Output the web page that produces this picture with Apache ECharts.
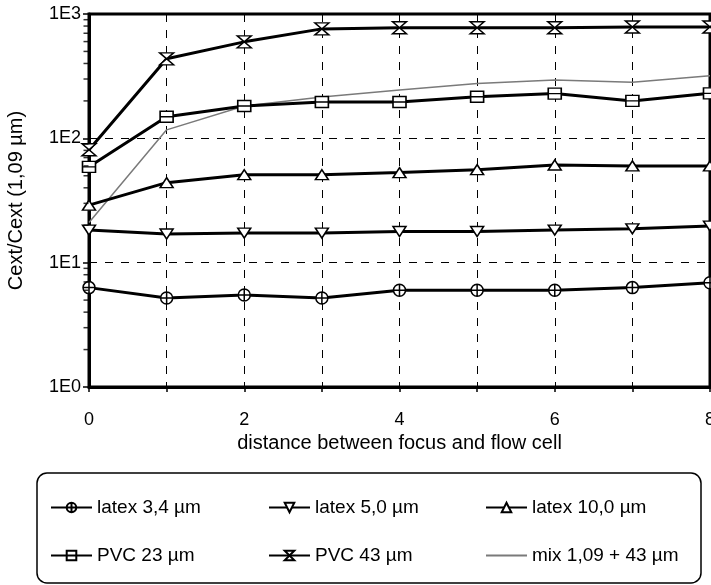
<!DOCTYPE html>
<html><head><meta charset="utf-8">
<script src="https://cdn.jsdelivr.net/npm/echarts@6/dist/echarts.min.js"></script>
<style>html,body{margin:0;padding:0;background:#fff}#c{width:711px;height:585px}</style>
</head><body><div id="c"></div>
<script>
const xValues = [0,1,2,3,4,5,6,7,8];
const latex34 = [6.3,5.2,5.5,5.2,6.0,6.0,6.0,6.3,6.9];
const latex50 = [18.3,17.0,17.3,17.3,17.8,17.8,18.3,18.7,19.7];
const latex100 = [29,44,51,51,53,56,61,60,60];
const pvc23 = [59,149,182,196,196,216,229,200,230];
const pvc43 = [81,436,597,759,776,776,776,787,787];
const mix = [21,117,182,215,245,276,295,283,318];
const seriesNames = ['latex 3,4 µm','latex 5,0 µm','latex 10,0 µm','PVC 23 µm','PVC 43 µm','mix 1,09 + 43 µm'];
const minorTickValues = [2,3,4,5,6,7,8,9,20,30,40,50,60,70,80,90,200,300,400,500,600,700,800,900];

const pair = arr => arr.map((v,i)=>[xValues[i], v]);
const FONT = 'Liberation Sans, Arial, sans-serif';
const sym = {
  circ: 'path://M10,0 A10,10 0 1,1 9.99,0 Z M0,10 L20,10 M10,0 L10,20',
  down: 'path://M0,0 L20,0 L10,17 Z',
  up: 'path://M10,0 L20,17 L0,17 Z',
  sq: 'path://M0,0 L20,0 L20,16 L0,16 Z M0,8 L20,8',
  hour: 'path://M0,0 L20,0 L0,20 L20,20 Z'
};
function lineSeries(name, data, symbol, size) {
  return {
    name, type:'line', data: pair(data), symbol, symbolSize: size,
    showAllSymbol: true,
    lineStyle:{color:'#000', width:3},
    itemStyle:{color:'#fff', borderColor:'#000', borderWidth:1.5},
    z: 3
  };
}
const chart = echarts.init(document.getElementById('c'));
const legendCommon = {
  orient:'vertical', itemWidth:41, itemHeight:12, itemGap:29,
  textStyle:{fontFamily:FONT, fontSize:19, color:'#000'}
};
chart.setOption({
  animation:false,
  backgroundColor:'#fff',
  grid:{left:89, right:1, top:14, bottom:198, show:true, borderColor:'#000', borderWidth:3,
    outerBoundsMode:'none', containLabel:false},
  xAxis:{
    type:'value', min:0, max:8, interval:1,
    name:'distance between focus and flow cell', nameLocation:'middle', nameGap:42,
    nameTextStyle:{fontFamily:FONT, fontSize:20, color:'#000'},
    axisLine:{show:true, lineStyle:{color:'#000', width:3}},
    axisTick:{show:true, length:5, lineStyle:{color:'#000', width:1.5}},
    axisLabel:{fontFamily:FONT, fontSize:18, color:'#000', margin:24,
      formatter: v => (v % 2 === 0 ? String(v) : '')},
    splitLine:{show:true, lineStyle:{color:'#000', width:1, type:[8,8]}}
  },
  yAxis:{
    type:'log', logBase:10, min:1, max:1000,
    name:'Cext/Cext (1,09 µm)', nameLocation:'middle', nameGap:63, nameRotate:90,
    nameTextStyle:{fontFamily:FONT, fontSize:20, color:'#000'},
    axisLine:{show:true, lineStyle:{color:'#000', width:3}},
    axisTick:{show:true, length:6, lineStyle:{color:'#000', width:1.5}},
    axisLabel:{fontFamily:FONT, fontSize:18, color:'#000', margin:8,
      formatter: v => '1E' + Math.round(Math.log10(v))},
    splitLine:{show:true, lineStyle:{color:'#000', width:1, type:[8,8]}}
  },
  legend:[
    Object.assign({}, legendCommon, {left:45, top:493, data:[seriesNames[0], seriesNames[3]]}),
    Object.assign({}, legendCommon, {left:263, top:493, data:[seriesNames[1], seriesNames[4]]}),
    Object.assign({}, legendCommon, {left:480, top:493, data:[seriesNames[2], {name:seriesNames[5], itemStyle:{opacity:0}}]})
  ],
  graphic:[{type:'rect', shape:{x:37, y:473, width:664, height:110, r:10},
    style:{fill:'none', stroke:'#000', lineWidth:1.5}, z:0}],
  series:[
    lineSeries(seriesNames[0], latex34, sym.circ, 12),
    lineSeries(seriesNames[1], latex50, sym.down, [13,10]),
    lineSeries(seriesNames[2], latex100, sym.up, [13,10]),
    lineSeries(seriesNames[3], pvc23, sym.sq, [13,11]),
    lineSeries(seriesNames[4], pvc43, sym.hour, [14,12]),
    {name:seriesNames[5], type:'line', data: pair(mix), symbol:'none',
      lineStyle:{color:'#7a7a7a', width:1.5}, itemStyle:{color:'#7a7a7a'}, z:2},
    {type:'scatter', silent:true, data: minorTickValues.map(v=>[0,v]),
      symbol:'rect', symbolSize:[5,1.5], symbolOffset:[-3,0],
      itemStyle:{color:'#000'}, z:5, clip:false}
  ]
});
</script></body></html>
